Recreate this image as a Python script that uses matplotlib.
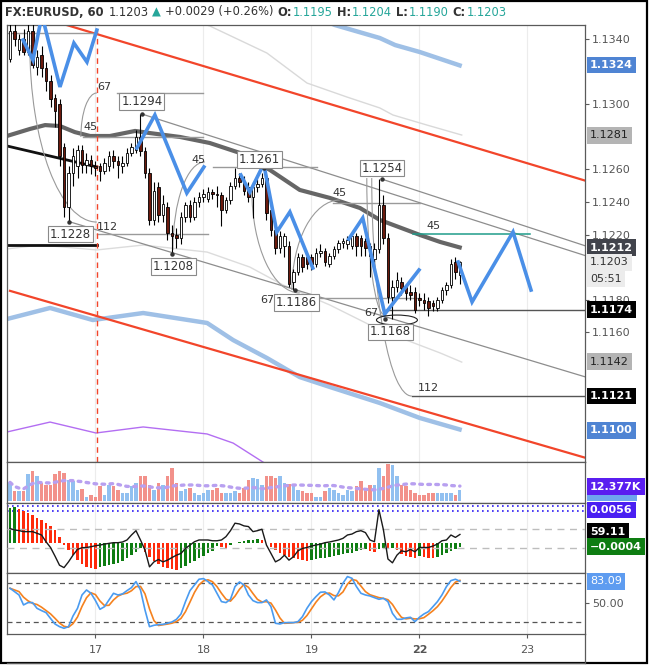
import matplotlib
matplotlib.use("Agg")
import matplotlib.pyplot as plt
import matplotlib.transforms as mtransforms
import numpy as np
import pandas as pd
from matplotlib.lines import Line2D
from matplotlib.patches import Arc, Ellipse, Rectangle

# --------------------------------------------------------------------------- #
# data (hourly bars, bar 0 = 16th ~05:00)
# --------------------------------------------------------------------------- #
OPEN = [1.1328, 1.1345, 1.1333, 1.1340, 1.1332, 1.1345, 1.1323, 1.1330, 1.1322, 1.1314,
        1.1304, 1.1300, 1.1274, 1.1237, 1.1258, 1.1262, 1.1272, 1.1263, 1.1266, 1.1262,
        1.1262, 1.1259, 1.1262, 1.1268, 1.1265, 1.1262, 1.1264, 1.1270, 1.1272, 1.1280,
        1.1271, 1.1258, 1.1229, 1.1249, 1.1232, 1.1237, 1.1221, 1.1220, 1.1218, 1.1231,
        1.1238, 1.1231, 1.1240, 1.1243, 1.1242, 1.1246, 1.1245, 1.1244, 1.1235, 1.1241,
        1.1250, 1.1255, 1.1252, 1.1249, 1.1243, 1.1249, 1.1251, 1.1255, 1.1235, 1.1223,
        1.1212, 1.1213, 1.1213, 1.1191, 1.1197, 1.1206, 1.1206, 1.1206, 1.1202, 1.1209,
        1.1210, 1.1202, 1.1207, 1.1211, 1.1215, 1.1214, 1.1213, 1.1219, 1.1218, 1.1216,
        1.1213, 1.1205, 1.1211, 1.1238, 1.1218, 1.1182, 1.1188, 1.1191, 1.1188, 1.1185,
        1.1185, 1.1181, 1.1180, 1.1179, 1.1178, 1.1175, 1.1180, 1.1186, 1.1189, 1.1203,
        1.1195]
HIGH = [1.1349, 1.1350, 1.1343, 1.1346, 1.1349, 1.1350, 1.1333, 1.1336, 1.1326, 1.1318,
        1.1306, 1.1303, 1.1276, 1.1262, 1.1273, 1.1275, 1.1275, 1.1270, 1.1269, 1.1265,
        1.1264, 1.1267, 1.1271, 1.1272, 1.1268, 1.1268, 1.1273, 1.1276, 1.1284, 1.1294,
        1.1274, 1.1261, 1.1252, 1.1252, 1.1244, 1.1240, 1.1226, 1.1224, 1.1234, 1.1240,
        1.1241, 1.1243, 1.1246, 1.1248, 1.1249, 1.1248, 1.1250, 1.1246, 1.1243, 1.1252,
        1.1261, 1.1258, 1.1256, 1.1252, 1.1252, 1.1254, 1.1258, 1.1257, 1.1238, 1.1226,
        1.1222, 1.1221, 1.1216, 1.1199, 1.1209, 1.1208, 1.1208, 1.1208, 1.1212, 1.1214,
        1.1212, 1.1209, 1.1213, 1.1217, 1.1218, 1.1219, 1.1221, 1.1221, 1.1220, 1.1218,
        1.1215, 1.1215, 1.1254, 1.1244, 1.1221, 1.1192, 1.1197, 1.1194, 1.1190, 1.1189,
        1.1188, 1.1184, 1.1184, 1.1182, 1.1180, 1.1182, 1.1188, 1.1191, 1.1205, 1.1206,
        1.1204]
LOW = [1.1326, 1.1336, 1.1330, 1.1330, 1.1330, 1.1322, 1.1318, 1.1317, 1.1308, 1.1298,
       1.1286, 1.1262, 1.1231, 1.1228, 1.1250, 1.1255, 1.1258, 1.1258, 1.1257, 1.1256,
       1.1253, 1.1257, 1.1259, 1.1261, 1.1255, 1.1258, 1.1262, 1.1268, 1.1270, 1.1268,
       1.1255, 1.1226, 1.1226, 1.1228, 1.1228, 1.1217, 1.1208, 1.1212, 1.1214, 1.1228,
       1.1228, 1.1229, 1.1237, 1.1240, 1.1240, 1.1242, 1.1237, 1.1225, 1.1233, 1.1239,
       1.1248, 1.1249, 1.1244, 1.1240, 1.1230, 1.1246, 1.1249, 1.1229, 1.1219, 1.1208,
       1.1209, 1.1206, 1.1188, 1.1186, 1.1195, 1.1197, 1.1199, 1.1198, 1.1200, 1.1206,
       1.1201, 1.1200, 1.1205, 1.1209, 1.1212, 1.1211, 1.1211, 1.1207, 1.1207, 1.1207,
       1.1194, 1.1203, 1.1209, 1.1214, 1.1178, 1.1168, 1.1185, 1.1183, 1.1180, 1.1180,
       1.1172, 1.1176, 1.1174, 1.1170, 1.1173, 1.1173, 1.1178, 1.1183, 1.1187, 1.1193,
       1.1190]
CLOSE = [1.1345, 1.1340, 1.1340, 1.1332, 1.1345, 1.1324, 1.1329, 1.1322, 1.1314, 1.1303,
         1.1296, 1.1268, 1.1237, 1.1258, 1.1268, 1.1272, 1.1263, 1.1266, 1.1262, 1.1261,
         1.1259, 1.1264, 1.1268, 1.1265, 1.1263, 1.1264, 1.1270, 1.1274, 1.1280, 1.1271,
         1.1258, 1.1229, 1.1247, 1.1232, 1.1239, 1.1221, 1.1219, 1.1218, 1.1231, 1.1238,
         1.1231, 1.1240, 1.1243, 1.1245, 1.1246, 1.1245, 1.1244, 1.1235, 1.1241, 1.1250,
         1.1255, 1.1252, 1.1247, 1.1243, 1.1249, 1.1251, 1.1255, 1.1233, 1.1223, 1.1212,
         1.1219, 1.1219, 1.1190, 1.1197, 1.1206, 1.1200, 1.1202, 1.1202, 1.1209, 1.1210,
         1.1203, 1.1207, 1.1211, 1.1215, 1.1216, 1.1217, 1.1219, 1.1213, 1.1213, 1.1212,
         1.1207, 1.1211, 1.1238, 1.1218, 1.1182, 1.1188, 1.1192, 1.1187, 1.1184, 1.1183,
         1.1174, 1.1180, 1.1178, 1.1175, 1.1176, 1.1180, 1.1186, 1.1189, 1.1202, 1.1197,
         1.1203]
VOLUME_K = [13.5, 7.5, 6.8, 6.8, 19.3, 21.8, 18.0, 13.0, 11.8, 11.8,
            19.3, 21.8, 20.5, 15.5, 14.3, 8.0, 8.5, 3.0, 4.3, 3.0,
            10.5, 4.3, 11.8, 10.5, 8.0, 5.5, 5.5, 10.5, 13.0, 18.5,
            18.5, 11.8, 8.0, 13.0, 11.8, 18.5, 24.3, 13.0, 6.8, 8.5,
            9.3, 5.5, 4.3, 5.5, 8.0, 8.0, 9.3, 5.5, 5.5, 6.0,
            6.8, 5.5, 9.3, 15.5, 16.8, 16.0, 11.8, 18.0, 18.0, 16.8,
            18.0, 13.0, 12.5, 10.5, 8.0, 6.8, 6.0, 5.5, 2.5, 3.0,
            6.8, 9.3, 8.0, 5.5, 4.3, 8.0, 6.8, 10.5, 14.3, 8.5,
            11.8, 11.8, 24.3, 18.0, 26.8, 26.0, 18.5, 11.8, 10.5, 8.0,
            5.5, 4.3, 4.3, 5.5, 5.5, 5.5, 5.5, 5.5, 5.5, 4.3,
            8.0]
MACD_HIST = [0.0043, 0.0044, 0.0041, 0.0039, 0.0037, 0.0034, 0.0031, 0.0028, 0.0025, 0.0021,
             0.0016, 0.0008, -0.0002, -0.0008, -0.0014, -0.0020, -0.0025, -0.0028, -0.0030, -0.0031,
             -0.0028, -0.0027, -0.0026, -0.0025, -0.0023, -0.0021, -0.0018, -0.0014, -0.0010, -0.0006,
             -0.0010, -0.0016, -0.0021, -0.0025, -0.0028, -0.0030, -0.0031, -0.0032, -0.0030, -0.0027,
             -0.0024, -0.0021, -0.0018, -0.0015, -0.0012, -0.0009, -0.0003, -0.0004, -0.0005, -0.0002,
             0.0001, 0.0002, 0.0003, 0.00035, 0.0004, 0.0005, 0.0004, 0.0001, -0.0004, -0.0008,
             -0.0011, -0.0014, -0.0016, -0.0018, -0.0019, -0.0020, -0.0021, -0.0020, -0.0019, -0.0018,
             -0.0017, -0.0016, -0.0015, -0.0014, -0.0013, -0.0012, -0.0011, -0.0009, -0.0008, -0.0007,
             -0.0009, -0.0010, -0.0007, -0.0005, -0.0006, -0.0005, -0.0008, -0.0013, -0.0015, -0.0016,
             -0.0017, -0.0015, -0.0016, -0.0017, -0.00175, -0.0016, -0.0014, -0.0012, -0.0009, -0.0007,
             -0.0004]
OSC_LINE = [71.4, 68.6, 67.2, 65.0, 65.0, 65.0, 61.6, 58.0, 44.0, 32.0,
            14.0, -5.0, -10.0, 2.0, 16.0, 28.0, 31.5, 32.0, 33.6, 35.7,
            37.0, 39.0, 40.6, 42.0, 42.0, 43.4, 47.6, 58.0, 67.0, 47.6,
            26.6, -8.4, 2.0, 7.0, 2.0, 5.6, 11.0, 16.0, 19.6, 30.0,
            37.0, 44.0, 47.6, 47.6, 47.6, 46.0, 46.0, 47.6, 54.6, 67.0,
            82.6, 81.0, 77.0, 75.6, 65.0, 67.0, 70.0, 37.0, 19.6, 2.0,
            7.0, 16.0, 5.6, 12.6, 25.0, 30.0, 32.0, 35.0, 37.0, 39.0,
            42.0, 43.4, 45.5, 47.6, 51.0, 58.0, 60.0, 65.0, 67.0, 63.0,
            47.6, 44.0, 110.7, 68.6, 8.0, 0.0, 16.0, 25.0, 23.0, 28.0,
            23.0, 32.0, 32.0, 32.0, 35.0, 39.0, 46.0, 47.6, 58.0, 53.0,
            59.11]
STOCH_K = [72.3, 67.2, 62.0, 46.7, 50.3, 50.3, 41.5, 38.0, 34.9, 26.0,
           17.4, 13.3, 10.8, 13.3, 29.7, 41.5, 62.0, 69.7, 64.6, 53.3,
           40.0, 44.0, 54.4, 64.6, 62.0, 63.6, 68.7, 73.3, 82.6, 69.7,
           39.0, 13.3, 15.4, 16.4, 16.9, 18.5, 20.5, 24.6, 32.8, 51.8,
           68.7, 77.4, 86.2, 87.2, 82.6, 77.4, 64.6, 51.8, 50.3, 55.4,
           74.9, 82.0, 77.4, 62.0, 53.3, 50.3, 50.3, 54.4, 44.0, 18.5,
           17.4, 19.5, 19.5, 19.5, 21.0, 28.7, 41.5, 51.8, 59.5, 66.2,
           66.7, 62.0, 54.4, 65.6, 80.0, 90.3, 87.7, 74.9, 64.6, 62.0,
           60.5, 57.9, 55.4, 56.9, 51.8, 33.8, 24.6, 24.6, 26.7, 27.7,
           21.0, 27.7, 32.8, 36.4, 44.0, 51.8, 62.0, 74.9, 84.1, 86.2,
           83.09]

DAY_TICKS = [19, 43, 67, 91, 115]
DAY_LABELS = ["17", "18", "19", "22", "23"]
# labels hidden behind a price badge in the reference are left out
PRICE_TICKS = [1.1160, 1.1180, 1.1220, 1.1240, 1.1260, 1.1300, 1.1340]

# indicator overlays: (bar, price) knots
MA_DARK = [(-0.7, 1.12805), (4.4, 1.12848), (7.8, 1.12872), (11.1, 1.12866), (14.4, 1.12829),
           (17.8, 1.12805), (22.2, 1.12805), (27.8, 1.12836), (31.1, 1.12823), (37.8, 1.12799),
           (44.4, 1.12762), (51.1, 1.12701), (57.8, 1.12596), (64.4, 1.12474), (71.1, 1.12425),
           (77.8, 1.12363), (82.2, 1.12290), (91.1, 1.12198), (95.6, 1.12155), (100.4, 1.12118)]
ENV_UPPER = [(64.4, 1.13578), (72.2, 1.13486), (82.2, 1.13406), (85.6, 1.13363),
             (91.1, 1.13320), (100.4, 1.13234)]
ENV_LOWER = [(-0.7, 1.11682), (8.9, 1.11750), (18.4, 1.11676), (29.6, 1.11719), (43.8, 1.11658),
             (49.6, 1.11553), (57.1, 1.11443), (64.4, 1.11326), (71.8, 1.11259), (82.2, 1.11167),
             (91.1, 1.11075), (100.4, 1.11001)]
BAND_UPPER = [(40.0, 1.13517), (44.4, 1.13480), (57.1, 1.13314), (66.0, 1.13130), (74.9, 1.13044),
              (82.2, 1.12977), (85.1, 1.12934), (92.7, 1.12872), (100.4, 1.12811)]
BAND_LOWER = [(-0.7, 1.12112), (6.7, 1.12136), (19.3, 1.12106), (29.6, 1.12136), (43.8, 1.12093),
              (53.3, 1.12001), (60.7, 1.11891), (71.1, 1.11768), (82.2, 1.11615), (95.6, 1.11474),
              (100.4, 1.11418)]
PURPLE_LINE = [(-0.7, 1.10989), (8.9, 1.11050), (19.1, 1.10983), (29.6, 1.11020), (43.8, 1.10977),
               (49.6, 1.10921), (56.2, 1.10805), (62.2, 1.10694)]

# drawings
RED_UPPER = [(0, 1.1359), (128, 1.1253)]
RED_LOWER = [(0, 1.11855), (128, 1.1083)]
TRENDS = [[(29.3, 1.1294), (128, 1.1207)],
          [(82.7, 1.1254), (128, 1.1213)],
          [(13.1, 1.1228), (128, 1.11326)]]
BLACK_DIAG = [(-0.7, 1.12744), (19.3, 1.12615)]
BLACK_FLAT = [(-0.7, 1.12136), (19.3, 1.12136)]
GRAY_LEVELS = [(-0.7, 19.3, 1.13437), (23.8, 42.9, 1.13069), (16.2, 42.9, 1.12799),
               (19.3, 44.0, 1.12204), (45.1, 68.2, 1.12615), (71.8, 91.1, 1.12394),
               (60.7, 91.1, 1.11811)]
DARK_LEVELS = [(83.3, 128, 1.1174), (89.3, 128, 1.1121)]
TEAL_LEVEL = (89.6, 115.6, 1.12204)
ZIGZAGS = [[(2.9, 1.13394), (5.1, 1.13271), (7.1, 1.13547), (11.1, 1.13106),
            (14.2, 1.13375), (17.1, 1.13259), (19.3, 1.13455)],
           [(28.2, 1.12731), (32.2, 1.12934), (39.3, 1.12455), (43.1, 1.12615)],
           [(51.3, 1.12566), (53.3, 1.12461), (56.4, 1.12633), (59.3, 1.12216),
            (62.2, 1.12339), (67.3, 1.11995)],
           [(75.3, 1.12173), (78.4, 1.12302), (83.3, 1.11713), (90.9, 1.11983)],
           [(99.6, 1.12032), (102.7, 1.11787), (111.8, 1.12216), (115.8, 1.11860)]]
ARCS = [(19.3, 1.13363, 29.8, 0.02172, 180, 270),
        (19.3, 1.12799, 7.1, 0.0054, 90, 180),
        (43.3, 1.12106, 14.2, 0.0108, 90, 180),
        (64.4, 1.12474, 21.3, 0.01264, 180, 270),
        (73.3, 1.11860, 21.3, 0.01104, 90, 180),
        (83.3, 1.12547, 8.0, 0.01681, 180, 270),
        (89.3, 1.12547, 17.8, 0.02675, 180, 270)]
FIB_TEXTS = [("67", 20.9, 1.13106), ("45", 18.0, 1.12860), ("112", 21.6, 1.12247),
             ("45", 42.0, 1.12658), ("67", 57.1, 1.11800), ("45", 73.3, 1.12455),
             ("67", 80.2, 1.11719), ("45", 94.2, 1.12253), ("112", 92.9, 1.11259)]
PIVOT_BARS = [29.3, 13.1, 36.0, 56.4, 63.3, 82.7, 83.3]
PIVOT_PRICES = [1.1294, 1.1228, 1.1208, 1.1261, 1.1186, 1.1254, 1.1168]
PIVOT_OFFSETS = [(0, 9), (1, -9), (1, -9), (-3, 6), (1, -9), (0, 8), (4, -9)]  # points

# right-hand price badges
MAIN_BADGES = [(1.1324, "1.1324", "#4f84d3", "white", True),
               (1.1281, "1.1281", "#b4b4b4", "#222222", False),
               (1.1212, "1.1212", "#41434b", "white", True),
               (1.1203, "1.1203", "#ececec", "#333333", False),
               (1.11928, "05:51", "#ececec", "#333333", False),
               (1.1174, "1.1174", "#000000", "white", True),
               (1.1142, "1.1142", "#b4b4b4", "#222222", False),
               (1.1121, "1.1121", "#000000", "white", True),
               (1.1100, "1.1100", "#4f84d3", "white", True)]

DARK = "#333333"
TEAL = "#26a69a"
AXC = "#5a5a5a"

# --------------------------------------------------------------------------- #
# layout
# --------------------------------------------------------------------------- #
fig = plt.figure(figsize=(6.49, 6.66), dpi=100)
L, W = 7 / 649, 578 / 649


def panel(top_px, bot_px, **kw):
    return fig.add_axes([L, (666 - bot_px) / 666, W, (bot_px - top_px) / 666], **kw)


ax = panel(25, 462)
ax_vol = panel(462, 503, sharex=ax)
ax_macd = panel(503, 573, sharex=ax)
ax_st = panel(573, 634, sharex=ax)

bars = np.arange(len(CLOSE))
ax.set_xlim(-0.67, 127.8)
ax.set_ylim(1.10805, 1.13486)

for a in (ax, ax_vol, ax_macd, ax_st):
    for s in a.spines.values():
        s.set_color(AXC)
        s.set_linewidth(0.9)
    a.yaxis.tick_right()
    a.tick_params(axis="y", direction="out", length=3, color=AXC, labelcolor="#555555",
                  labelsize=8, pad=2)
    a.tick_params(axis="x", bottom=False, labelbottom=False)
    for d in DAY_TICKS:
        a.axvline(d, color="#ececec", lw=0.8, zorder=0)
    a.set_facecolor("white")

ax.set_yticks(PRICE_TICKS)
ax.set_yticklabels([f"{p:.4f}" for p in PRICE_TICKS])

# --------------------------------------------------------------------------- #
# main pane
# --------------------------------------------------------------------------- #
def knots(ax_, pts, **kw):
    xs, ys = zip(*pts)
    ax_.plot(xs, ys, **kw)


knots(ax, BAND_UPPER, color="#d9d9d9", lw=1.0, zorder=1)
knots(ax, BAND_LOWER, color="#dcdcdc", lw=1.0, zorder=1)
knots(ax, ENV_UPPER, color="#9fc0e6", lw=3.2, zorder=1, solid_capstyle="butt")
knots(ax, ENV_LOWER, color="#9fc0e6", lw=3.2, zorder=1, solid_capstyle="butt")
knots(ax, PURPLE_LINE, color="#b36ef2", lw=1.0, zorder=1)
knots(ax, MA_DARK, color="#666666", lw=3.0, zorder=2, solid_capstyle="butt")
knots(ax, BLACK_DIAG, color="#111111", lw=2.0, zorder=2)
knots(ax, BLACK_FLAT, color="#111111", lw=2.0, zorder=2)
knots(ax, RED_UPPER, color="#f2452a", lw=1.6, zorder=2)
knots(ax, RED_LOWER, color="#f2452a", lw=1.6, zorder=2)
for t in TRENDS:
    knots(ax, t, color="#8d8d8d", lw=0.9, zorder=2)
for x0, x1, p in GRAY_LEVELS:
    ax.plot([x0, x1], [p, p], color="#9a9a9a", lw=1.0, zorder=2)
for x0, x1, p in DARK_LEVELS:
    ax.plot([x0, x1], [p, p], color="#555555", lw=1.0, zorder=2)
ax.plot(TEAL_LEVEL[:2], [TEAL_LEVEL[2]] * 2, color="#1f9c8a", lw=1.1, zorder=2)
ax.axvline(19.3, color="#f2452a", lw=1.0, ls=(0, (4, 3)), zorder=2)

for cx, cy, w, h, t1, t2 in ARCS:
    ax.add_patch(Arc((cx, cy), w, h, theta1=t1, theta2=t2, color="#9a9a9a", lw=0.8, zorder=2))
ax.add_patch(Ellipse((86, 1.11676), 9.1, 0.00061, fill=False, ec="#222222", lw=0.8, zorder=6))
for txt, bx, py in FIB_TEXTS:
    ax.text(bx, py, txt, fontsize=8, color=DARK, ha="center", va="center", zorder=6)

# candles
o, h, l, c = map(np.asarray, (OPEN, HIGH, LOW, CLOSE))
up = c >= o
ax.vlines(bars, l, h, color="black", lw=0.8, zorder=3)
body = np.maximum(np.abs(c - o), 0.00003)
ax.bar(bars, body, bottom=np.minimum(o, c), width=0.62,
       color=np.where(up, "white", "#6b1a0d"), edgecolor="black", linewidth=0.6, zorder=4)

for z in ZIGZAGS:
    knots(ax, z, color="#4a8fe7", lw=2.6, zorder=5, solid_joinstyle="miter")

for bx, py, (dx, dy) in zip(PIVOT_BARS, PIVOT_PRICES, PIVOT_OFFSETS):
    ax.plot(bx, py, "o", ms=2.2, color="#333333", zorder=6)
    ax.annotate(f"{py:.4f}", (bx, py), xytext=(dx, dy), textcoords="offset points",
                ha="center", va="center", fontsize=8.5, color=DARK, zorder=7,
                bbox=dict(boxstyle="square,pad=0.15", fc="white", ec="#8a8a8a", lw=0.8))


def badge(a, y, text, bg, fg, bold=True, frac=False):
    tr = mtransforms.blended_transform_factory(a.transAxes, a.transAxes if frac else a.transData)
    a.text(1.0 + 5 / 578, y, text, transform=tr, ha="left", va="center", fontsize=8,
           color=fg, fontweight="bold" if bold else "normal", clip_on=False, zorder=20,
           bbox=dict(boxstyle="square,pad=0.3", fc=bg, ec="none"))


for p, txt, bg, fg, bold in MAIN_BADGES:
    badge(ax, p, txt, bg, fg, bold)

# --------------------------------------------------------------------------- #
# volume pane
# --------------------------------------------------------------------------- #
vol = pd.Series(VOLUME_K)
ax_vol.bar(bars, vol, width=0.7, color=np.where(up, "#91c0f0", "#f2918a"), zorder=2)
ax_vol.plot(bars, vol.rolling(20, min_periods=1).mean(), color="#b8a0f0", lw=2.4,
            ls=(0, (0.8, 1.6)), dash_capstyle="round", zorder=3)
ax_vol.set_ylim(-1.7, 28.5)
ax_vol.set_yticks([])
# blue volume badge peeking out below the purple one
ax_vol.add_patch(Rectangle((1.0 + 2 / 578, 0.06), 50 / 578, 0.2, transform=ax_vol.transAxes,
                           fc="#6ea6ee", ec="none", clip_on=False, zorder=19))
badge(ax_vol, 0.40, "12.377K", "#5a1ef0", "white", frac=True)

# --------------------------------------------------------------------------- #
# MACD-style pane with oscillator overlay
# --------------------------------------------------------------------------- #
hist = np.asarray(MACD_HIST)
rising = np.concatenate([[True], hist[1:] >= hist[:-1]])
ax_macd.bar(bars, hist, width=0.55, color=np.where(rising, "#0e7d12", "#ff2a0a"), zorder=2)
ax_macd.set_ylim(-0.00356, 0.00484)
ax_macd.set_yticks([])
for f in (0.961, 0.886):
    ax_macd.plot([0, 1], [f, f], transform=ax_macd.transAxes, color="#2f1cf2", lw=1.2,
                 ls=(0, (1, 2)), zorder=1)

ax_osc = ax_macd.twinx()
ax_osc.set_ylim(-21.2, 124.7)
ax_osc.axis("off")
for lvl in (70, 30):
    ax_osc.axhline(lvl, color="#bdbdbd", lw=1.0, ls=(0, (5, 4)), zorder=1)
ax_osc.plot(bars, OSC_LINE, color="#1a1a1a", lw=1.0, zorder=3)

badge(ax_macd, 0.90, "0.0056", "#4a1ff2", "white", frac=True)
badge(ax_macd, 0.59, "59.11", "#000000", "white", frac=True)
badge(ax_macd, -0.0004, "\u22120.0004", "#0e7d12", "white")

# --------------------------------------------------------------------------- #
# stochastic pane
# --------------------------------------------------------------------------- #
k = pd.Series(STOCH_K)
ax_st.plot(bars, k, color="#4a9bf0", lw=1.2, zorder=3)
ax_st.plot(bars, k.rolling(3, min_periods=1).mean(), color="#f5821f", lw=1.2, zorder=2)
for lvl in (80, 20):
    ax_st.axhline(lvl, color="#555555", lw=0.9, ls=(0, (4, 3)), zorder=1)
ax_st.set_ylim(2, 95.8)
ax_st.set_yticks([50])
ax_st.set_yticklabels(["50.00"])
badge(ax_st, 83.09, "83.09", "#5e9cf0", "white", bold=False)

ax_st.set_xticks(DAY_TICKS)
ax_st.set_xticklabels(DAY_LABELS)
ax_st.tick_params(axis="x", bottom=True, labelbottom=True, direction="out", length=3,
                  color=AXC, labelcolor="#555555", labelsize=8, pad=5)
ax_st.get_xticklabels()[3].set_fontweight("bold")

# --------------------------------------------------------------------------- #
# header (pieces laid out one after another) and frame
# --------------------------------------------------------------------------- #
HEADER = [("FX:EURUSD, 60", DARK, "bold", 5), ("1.1203", DARK, "normal", 3),
          ("\u25b2", TEAL, "normal", 4), ("+0.0029 (+0.26%)", DARK, "normal", 4),
          ("O:", DARK, "bold", 1), ("1.1195", TEAL, "normal", 4),
          ("H:", DARK, "bold", 1), ("1.1204", TEAL, "normal", 4),
          ("L:", DARK, "bold", 1), ("1.1190", TEAL, "normal", 4),
          ("C:", DARK, "bold", 1), ("1.1203", TEAL, "normal", 0)]
renderer = fig.canvas.get_renderer()
xp = 5.0
for txt, col, wt, gap in HEADER:
    t = fig.text(xp / 649, 1 - 12 / 666, txt, color=col, fontweight=wt, fontsize=8.3,
                 ha="left", va="center")
    xp += t.get_window_extent(renderer).width + gap

fig.add_artist(Rectangle((0.5 / 649, 3 / 666), 646.5 / 649, 662.5 / 666, transform=fig.transFigure,
                         fill=False, ec="black", lw=1.6))
fig.add_artist(Line2D([585 / 649, 585 / 649], [3 / 666, 32 / 666], transform=fig.transFigure,
                      color=AXC, lw=0.9))
fig.add_artist(Line2D([L, 585 / 649], [3.5 / 666, 3.5 / 666], transform=fig.transFigure,
                      color=AXC, lw=0.9))

fig.savefig("out.png", dpi=100)
